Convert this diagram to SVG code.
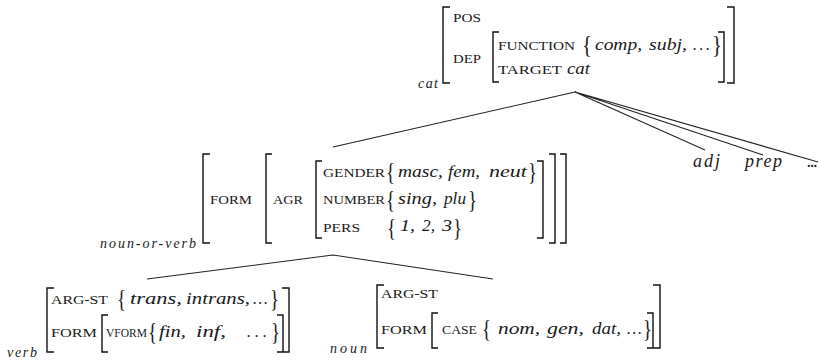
<svg xmlns="http://www.w3.org/2000/svg" width="819" height="363" viewBox="0 0 819 363">
<style>
.bk{fill:none;stroke:#111;stroke-width:1.4}
.ed{fill:none;stroke:#222;stroke-width:1.1}
.sc{font-family:"Liberation Serif","Times New Roman",serif;font-size:12px;fill:#1a1a1a}
.it{font-family:"Liberation Serif","Times New Roman",serif;font-style:italic;font-size:16px;fill:#1a1a1a}
.lb{font-family:"Liberation Serif","Times New Roman",serif;font-style:italic;font-size:14px;fill:#1a1a1a}
.lf{font-family:"Liberation Serif","Times New Roman",serif;font-style:italic;font-size:18px;fill:#1a1a1a}
.br{font-family:"Liberation Serif","Times New Roman",serif;font-size:25px;fill:#1a1a1a}
</style>
<rect width="819" height="363" fill="#fff"/>
<g id="connectors">
<path class="ed" d="M575 92L333 147M575 92L705 150M575 92L763 155M575 92L818 162"/>
<path class="ed" d="M333 255L147 279M333 255L493 279"/>
</g>
<g id="node-cat">
<path class="bk" d="M450 7H443V83H450M499 32H493V82H499M718 32H724V82H718M727 7H734V83H727"/>
<text class="lb" x="418" y="88" textLength="20" lengthAdjust="spacing">cat</text>
<text class="sc" x="453" y="22" textLength="28" lengthAdjust="spacingAndGlyphs">POS</text>
<text class="sc" x="453" y="63" textLength="28" lengthAdjust="spacingAndGlyphs">DEP</text>
<text class="sc" x="498" y="50" textLength="77" lengthAdjust="spacingAndGlyphs">FUNCTION</text>
<text class="br" x="582" y="53" textLength="10" lengthAdjust="spacingAndGlyphs" style="font-size:26px">{</text>
<text class="it" x="595" y="50" textLength="47" lengthAdjust="spacingAndGlyphs">comp,</text>
<text class="it" x="649" y="50" textLength="38" lengthAdjust="spacingAndGlyphs">subj,</text>
<text class="it" x="693" y="50" textLength="17" lengthAdjust="spacing">...</text>
<text class="br" x="712" y="53" textLength="10" lengthAdjust="spacingAndGlyphs" style="font-size:26px">}</text>
<text class="sc" x="498" y="74" textLength="64" lengthAdjust="spacingAndGlyphs">TARGET</text>
<text class="it" x="567" y="74" textLength="23" lengthAdjust="spacingAndGlyphs">cat</text>
</g>
<g id="node-adj"><text class="lf" x="693" y="167" textLength="27" lengthAdjust="spacing">adj</text></g>
<g id="node-prep"><text class="lf" x="745" y="167" textLength="37" lengthAdjust="spacing">prep</text></g>
<g id="node-more"><text class="lf" x="807" y="167" textLength="11" lengthAdjust="spacing">...</text></g>
<g id="node-noun-or-verb">
<path class="bk" d="M210 154H203V243H210M272 154H266V243H272M322 161H316V238H322M537 161H543V238H537M549 154H555V243H549M560 154H566V243H560"/>
<text class="lb" x="100" y="248" textLength="96" lengthAdjust="spacing">noun-or-verb</text>
<text class="sc" x="210" y="204" textLength="42" lengthAdjust="spacingAndGlyphs">FORM</text>
<text class="sc" x="273" y="204" textLength="30" lengthAdjust="spacingAndGlyphs">AGR</text>
<text class="sc" x="323" y="177" textLength="62" lengthAdjust="spacingAndGlyphs">GENDER</text>
<text class="br" x="386" y="180" textLength="9" lengthAdjust="spacingAndGlyphs">{</text>
<text class="it" x="398" y="177" textLength="45" lengthAdjust="spacingAndGlyphs">masc,</text>
<text class="it" x="448" y="177" textLength="32" lengthAdjust="spacingAndGlyphs">fem,</text>
<text class="it" x="489" y="177" textLength="38" lengthAdjust="spacingAndGlyphs">neut</text>
<text class="br" x="528" y="180" textLength="9" lengthAdjust="spacingAndGlyphs">}</text>
<text class="sc" x="323" y="204" textLength="62" lengthAdjust="spacingAndGlyphs">NUMBER</text>
<text class="br" x="386" y="208" textLength="9" lengthAdjust="spacingAndGlyphs">{</text>
<text class="it" x="398" y="204" textLength="39" lengthAdjust="spacingAndGlyphs">sing,</text>
<text class="it" x="444" y="204" textLength="22" lengthAdjust="spacingAndGlyphs">plu</text>
<text class="br" x="468" y="208" textLength="9" lengthAdjust="spacingAndGlyphs">}</text>
<text class="sc" x="323" y="232" textLength="37" lengthAdjust="spacingAndGlyphs">PERS</text>
<text class="br" x="387" y="236" textLength="9" lengthAdjust="spacingAndGlyphs">{</text>
<text class="it" x="400" y="231" textLength="15" lengthAdjust="spacingAndGlyphs">1,</text>
<text class="it" x="422" y="231" textLength="13" lengthAdjust="spacingAndGlyphs">2,</text>
<text class="it" x="442" y="231" textLength="10" lengthAdjust="spacingAndGlyphs">3</text>
<text class="br" x="453" y="236" textLength="9" lengthAdjust="spacingAndGlyphs">}</text>
</g>
<g id="node-verb">
<path class="bk" d="M54 288H47V352H54M108 315H102V352H108M277 315H283V352H277M282 288H289V352H282"/>
<text class="lb" x="7" y="357" textLength="30" lengthAdjust="spacing">verb</text>
<text class="sc" x="51" y="304" textLength="57" lengthAdjust="spacingAndGlyphs">ARG-ST</text>
<text class="br" x="117" y="307" textLength="9" lengthAdjust="spacingAndGlyphs">{</text>
<text class="it" x="130" y="304" textLength="52" lengthAdjust="spacingAndGlyphs">trans,</text>
<text class="it" x="186" y="304" textLength="64" lengthAdjust="spacingAndGlyphs">intrans,</text>
<text class="it" x="253" y="304" textLength="15" lengthAdjust="spacing">...</text>
<text class="br" x="270" y="307" textLength="9" lengthAdjust="spacingAndGlyphs">}</text>
<text class="sc" x="51" y="337" textLength="46" lengthAdjust="spacingAndGlyphs">FORM</text>
<text class="sc" x="106" y="337" textLength="41" lengthAdjust="spacingAndGlyphs">VFORM</text>
<text class="br" x="148" y="340" textLength="9" lengthAdjust="spacingAndGlyphs">{</text>
<text class="it" x="159" y="337" textLength="27" lengthAdjust="spacingAndGlyphs">fin,</text>
<text class="it" x="196" y="337" textLength="30" lengthAdjust="spacingAndGlyphs">inf,</text>
<text class="it" x="247" y="337" textLength="20" lengthAdjust="spacing">...</text>
<text class="br" x="271" y="340" textLength="9" lengthAdjust="spacingAndGlyphs">}</text>
</g>
<g id="node-noun">
<path class="bk" d="M384 285H377V348H384M438 313H432V348H438M647 313H653V348H647M653 285H660V348H653"/>
<text class="lb" x="330" y="353" textLength="37" lengthAdjust="spacing">noun</text>
<text class="sc" x="381" y="298" textLength="57" lengthAdjust="spacingAndGlyphs">ARG-ST</text>
<text class="sc" x="381" y="334" textLength="46" lengthAdjust="spacingAndGlyphs">FORM</text>
<text class="sc" x="442" y="334" textLength="35" lengthAdjust="spacingAndGlyphs">CASE</text>
<text class="br" x="482" y="337" textLength="9" lengthAdjust="spacingAndGlyphs">{</text>
<text class="it" x="498" y="334" textLength="42" lengthAdjust="spacingAndGlyphs">nom,</text>
<text class="it" x="547" y="334" textLength="37" lengthAdjust="spacingAndGlyphs">gen,</text>
<text class="it" x="592" y="334" textLength="29" lengthAdjust="spacingAndGlyphs">dat,</text>
<text class="it" x="627" y="334" textLength="15" lengthAdjust="spacing">...</text>
<text class="br" x="643" y="337" textLength="9" lengthAdjust="spacingAndGlyphs">}</text>
</g>
</svg>
